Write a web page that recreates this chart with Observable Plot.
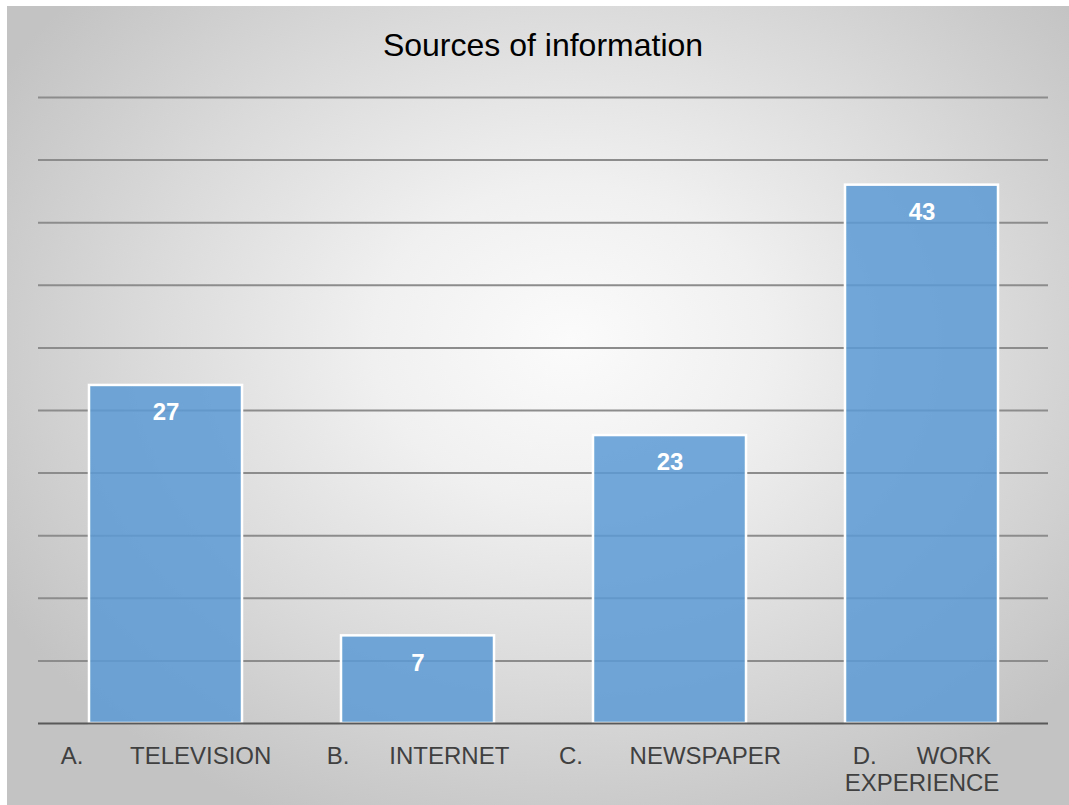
<!DOCTYPE html>
<html>
<head>
<meta charset="utf-8">
<script src="https://cdn.jsdelivr.net/npm/d3@7"></script>
<script src="https://cdn.jsdelivr.net/npm/@observablehq/plot@0.6"></script>
<style>
  html, body { margin: 0; padding: 0; background: #ffffff; }
  #wrap { position: relative; width: 1069px; height: 805px; overflow: hidden; }
  #bg { position: absolute; left: 7px; top: 6px; right: 0; bottom: 0;
        background: radial-gradient(ellipse 62% 66% at 53% 42%, #fbfbfb 0%, #f0f0f0 30%, #dadada 65%, #c3c3c3 100%); }
  #title { position: absolute; left: 38px; width: 1010px; top: 25px; text-align: center;
           font-family: "Liberation Sans", Arial, sans-serif; font-size: 32px; color: #000000; line-height: 40px; }
  #chart { position: absolute; left: 0; top: 0; }
</style>
</head>
<body>
<div id="wrap">
  <div id="bg"></div>
  <div id="title">Sources of information</div>
  <div id="chart"></div>
</div>
<script>
const title = "Sources of information";
const prefixes = ["A.", "B.", "C.", "D."];
const names = ["TELEVISION", "INTERNET", "NEWSPAPER", "WORK"];
const secondLines = ["", "", "", "EXPERIENCE"];
const gapSpaces = [7, 6, 7, 6];
const values = [27, 7, 23, 43];
const yTicks = [5, 10, 15, 20, 25, 30, 35, 40, 45, 50];

document.getElementById("title").textContent = title;

const keys = prefixes.map((p, i) => p + " " + names[i]);
const labelOf = new Map(keys.map((k, i) => [k,
  prefixes[i] + "\u00a0".repeat(gapSpaces[i]) + names[i] + (secondLines[i] ? "\n" + secondLines[i] : "")]));
const data = keys.map((k, i) => ({key: k, value: values[i]}));

const font = "'Liberation Sans', Arial, sans-serif";

const chart = Plot.plot({
  width: 1069,
  height: 805,
  marginLeft: 38,
  marginRight: 21,
  marginTop: 97,
  marginBottom: 82,
  style: {background: "transparent", fontFamily: font, overflow: "visible"},
  x: {domain: keys, paddingInner: 0.394, paddingOuter: 0.197, label: null},
  y: {domain: [0, 50], label: null, axis: null},
  marks: [
    Plot.gridY(yTicks, {stroke: "#8c8c8c", strokeOpacity: 1, strokeWidth: 2}),
    Plot.barY(data, {x: "key", y: "value", fill: "#5B9BD5", fillOpacity: 0.85,
      stroke: "#ffffff", strokeWidth: 2.5}),
    Plot.ruleY([0], {stroke: "#595959", strokeWidth: 2}),
    Plot.text(data, {x: "key", y: "value", text: d => String(d.value), dy: 27,
      lineAnchor: "middle", fill: "#ffffff", fontSize: 24, fontWeight: "bold", fontFamily: font}),
    Plot.axisX({tickSize: 0, tickPadding: 21, fontSize: 24, fill: "#404040", lineHeight: 1.125,
      tickFormat: k => labelOf.get(k), fontFamily: font}),
  ]
});
document.getElementById("chart").appendChild(chart);
</script>
</body>
</html>
